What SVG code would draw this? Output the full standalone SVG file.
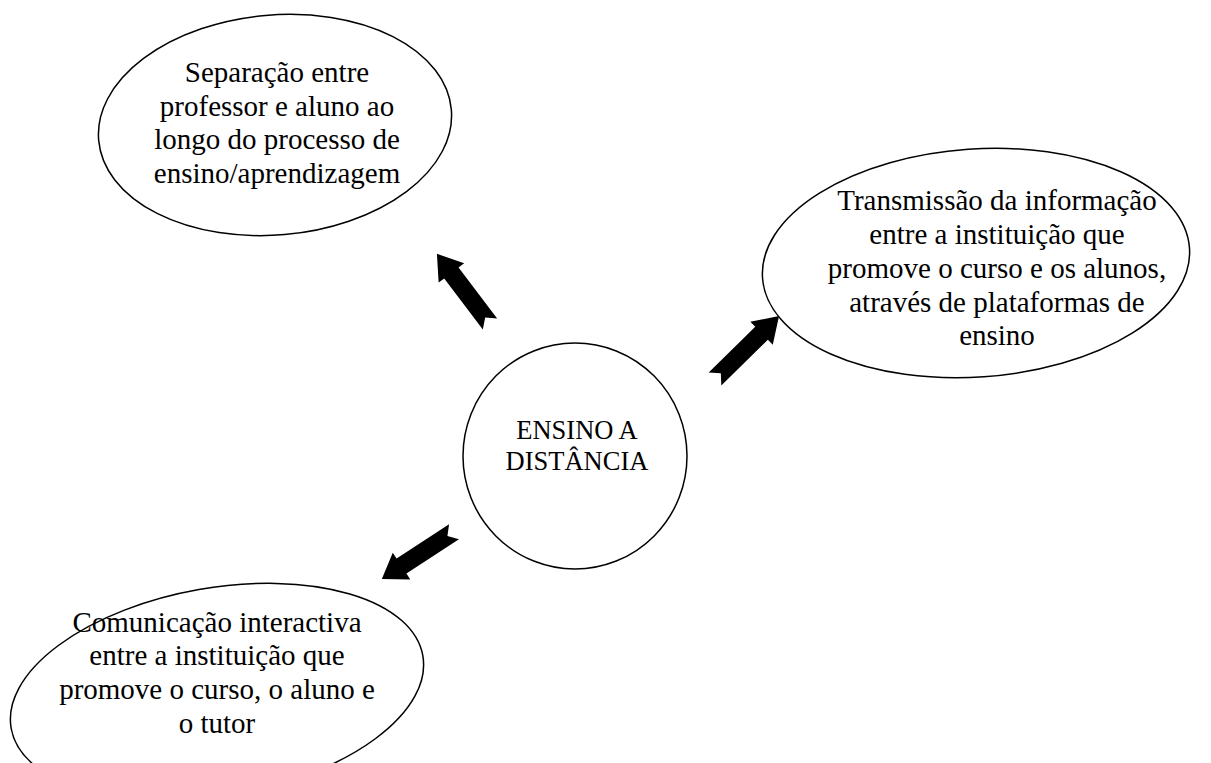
<svg xmlns="http://www.w3.org/2000/svg" width="1211" height="763" viewBox="0 0 1211 763">
<style>
.node{fill:#fff;stroke:#000;stroke-width:1.5}
.t{font-family:"Liberation Serif","Times New Roman",serif;font-size:29px;fill:#000;text-anchor:middle}
.tc{font-size:26.5px}
.arr{fill:#000;stroke:none}
</style>
<defs>
<polygon id="ar" points="0,-9 64,-9 64,-16 88,0 64,16 64,9 0,9 8,0"/>
</defs>
<rect width="1211" height="763" fill="#fff"/>
<g id="n1">
<ellipse class="node" cx="275" cy="125" rx="177" ry="110" transform="rotate(-5 275 125)"/>
<text class="t" x="277" y="82">Separação entre</text>
<text class="t" x="277" y="116">professor e aluno ao</text>
<text class="t" x="277" y="149">longo do processo de</text>
<text class="t" x="277" y="183">ensino/aprendizagem</text>
</g>
<g id="n2">
<ellipse class="node" cx="976" cy="263" rx="214" ry="114" transform="rotate(-4 976 263)"/>
<text class="t" x="997" y="210">Transmissão da informação</text>
<text class="t" x="997" y="244">entre a instituição que</text>
<text class="t" x="997" y="278">promove o curso e os alunos,</text>
<text class="t" x="997" y="312">através de plataformas de</text>
<text class="t" x="997" y="345">ensino</text>
</g>
<g id="n3">
<ellipse class="node" cx="217" cy="692" rx="209" ry="104" transform="rotate(-10 217 692)"/>
<text class="t" x="217" y="632">Comunicação interactiva</text>
<text class="t" x="217" y="665">entre a instituição que</text>
<text class="t" x="217" y="699">promove o curso, o aluno e</text>
<text class="t" x="217" y="733">o tutor</text>
</g>
<g id="center">
<ellipse class="node" cx="575" cy="456" rx="112" ry="113"/>
<text class="t tc" x="577" y="439">ENSINO A</text>
<text class="t tc" x="577" y="470">DISTÂNCIA</text>
</g>
<g id="connectors">
<use href="#ar" class="arr" transform="translate(490,324) rotate(-127.1)"/>
<use href="#ar" class="arr" transform="translate(715,379) rotate(-44.5) scale(1.02,1)"/>
<use href="#ar" class="arr" transform="translate(454,531.7) rotate(146.8) scale(0.98,1)"/>
</g>
</svg>
